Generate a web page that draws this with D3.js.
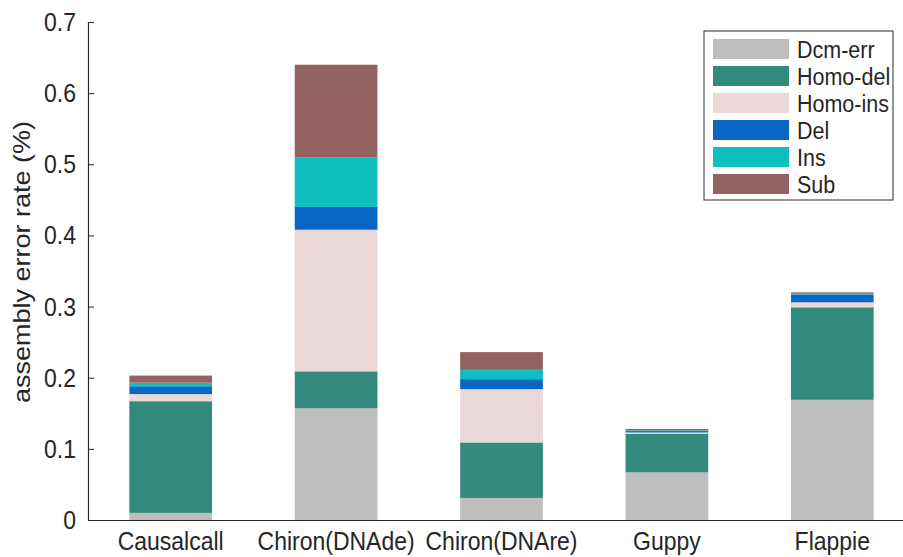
<!DOCTYPE html>
<html>
<head>
<meta charset="utf-8">
<script src="https://cdn.jsdelivr.net/npm/d3@7"></script>
<style>
  body { margin: 0; background: #fff; }
  svg { display: block; font-family: "Liberation Sans", Arial, Helvetica, sans-serif; }
</style>
</head>
<body>
<svg id="chart" width="903" height="557"></svg>
<script>
// Basecallers on the x axis
const categories = ["Causalcall", "Chiron(DNAde)", "Chiron(DNAre)", "Guppy", "Flappie"];

// Error-type series (stacked bottom to top), assembly error rate in %
const seriesNames = ["Dcm-err", "Homo-del", "Homo-ins", "Del", "Ins", "Sub"];
const dcmErr  = [0.010, 0.157, 0.031, 0.067, 0.169];
const homoDel = [0.157, 0.052, 0.078, 0.054, 0.130];
const homoIns = [0.010, 0.199, 0.075, 0.002, 0.007];
const del     = [0.011, 0.032, 0.014, 0.002, 0.011];
const ins     = [0.005, 0.070, 0.013, 0.001, 0.001];
const sub     = [0.010, 0.130, 0.025, 0.002, 0.002];

const yTicks = [0, 0.1, 0.2, 0.3, 0.4, 0.5, 0.6, 0.7];
const colors = ["#bebebe", "#318a7b", "#ead7d7", "#0a66c4", "#0fbfbf", "#956262"];

// Glyphs are drawn slightly taller than wide
const stretch = 1.15;

const seriesValues = [dcmErr, homoDel, homoIns, del, ins, sub];
const rows = categories.map((c, i) => {
  const r = { category: c };
  seriesNames.forEach((s, k) => { r[s] = seriesValues[k][i]; });
  return r;
});
const stacked = d3.stack().keys(seriesNames)(rows);

const svg = d3.select("#chart");
const margin = { left: 88, top: 22, bottom: 520 };
const plotRight = 915;

const x = d3.scaleBand()
  .domain(categories)
  .range([margin.left, plotRight])
  .paddingInner(0.5)
  .paddingOuter(0.25);

const y = d3.scaleLinear().domain([0, 0.7]).range([margin.bottom, margin.top]);

const color = d3.scaleOrdinal().domain(seriesNames).range(colors);

// Stacked bars
svg.append("g")
  .selectAll("g")
  .data(stacked)
  .join("g")
    .attr("fill", d => color(d.key))
  .selectAll("rect")
  .data(d => d)
  .join("rect")
    .attr("x", d => x(d.data.category))
    .attr("width", x.bandwidth())
    .attr("y", d => y(d[1]))
    .attr("height", d => y(d[0]) - y(d[1]));

// Y axis with inward ticks
const yAxis = svg.append("g")
  .attr("transform", `translate(${margin.left},0)`)
  .call(d3.axisLeft(y).tickValues(yTicks).tickFormat(d3.format("~g")).tickSize(-6).tickPadding(12));
yAxis.select(".domain").attr("stroke", "#2a2a2a").attr("stroke-width", 1.2);
yAxis.selectAll(".tick line").attr("stroke", "#2a2a2a");
yAxis.selectAll(".tick text")
  .attr("fill", "#262626")
  .attr("transform", `scale(1,${stretch})`)
  .style("font-size", "23px");

// X axis
const xAxis = svg.append("g")
  .attr("transform", `translate(0,${margin.bottom})`)
  .call(d3.axisBottom(x).tickSize(0).tickPadding(10));
xAxis.select(".domain").attr("stroke", "#2a2a2a").attr("stroke-width", 1.2);
xAxis.selectAll(".tick text")
  .attr("fill", "#262626")
  .attr("transform", `scale(1,${stretch})`)
  .style("font-size", "23px");

// Y axis title
svg.append("text")
  .attr("transform", `translate(30,262) rotate(-90) scale(${stretch},1)`)
  .attr("text-anchor", "middle")
  .attr("fill", "#262626")
  .style("font-size", "23.5px")
  .text("assembly error rate (%)");

// Legend
const legend = svg.append("g").attr("transform", "translate(704,31)");
legend.append("rect")
  .attr("width", 189).attr("height", 169)
  .attr("fill", "#fff").attr("stroke", "#2a2a2a").attr("stroke-width", 1);
const item = legend.selectAll("g.item")
  .data(seriesNames)
  .join("g")
    .attr("class", "item")
    .attr("transform", (d, i) => `translate(9,${8 + i * 27})`);
item.append("rect")
  .attr("width", 76).attr("height", 20)
  .attr("fill", d => color(d));
item.append("text")
  .attr("transform", `translate(84,10) scale(1,${stretch})`)
  .attr("dy", "0.35em")
  .attr("fill", "#262626")
  .style("font-size", "21.5px")
  .text(d => d);
</script>
</body>
</html>
